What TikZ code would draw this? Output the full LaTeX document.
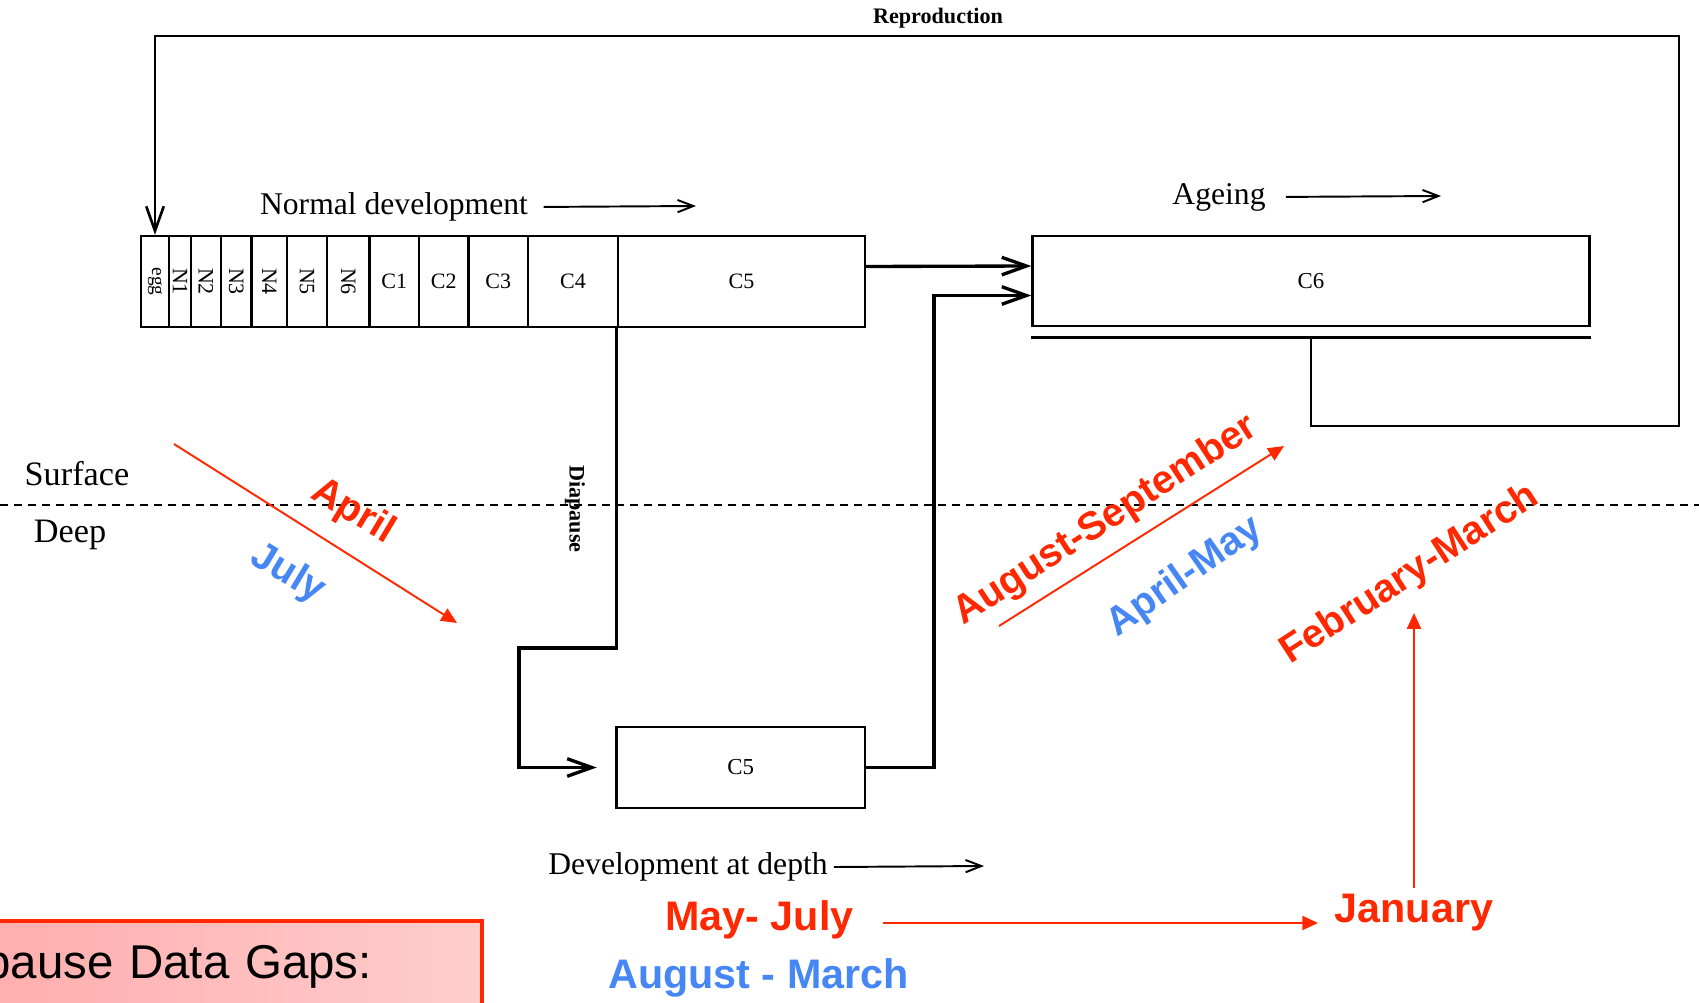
\documentclass[tikz,border=0pt]{standalone}
\usepackage{fontspec}
\setmainfont{Liberation Serif}
\newfontfamily\gapfont{Liberation Sans}
\usepackage{graphicx}
\usepackage{tikz}
\usetikzlibrary{arrows.meta, calc}
\usepackage{xcolor}
\definecolor{gapred}{RGB}{255,40,0}
\definecolor{gapblue}{RGB}{70,135,245}
\definecolor{gappink}{RGB}{255,168,168}
\definecolor{gappale}{RGB}{255,205,205}

\begin{document}
\begin{tikzpicture}[
  x=0.02cm, y=-0.02cm,
  cell/.style={rectangle, draw=black, line width=1.4pt, inner sep=0pt,
    minimum height=1.82cm, font=\fontsize{12.5}{14}\selectfont},
  stage/.style={rectangle, draw=black, line width=1.4pt, inner sep=0pt,
    font=\fontsize{13}{15}\selectfont},
  flow/.style={-{Straight Barb[length=14pt, width=10pt]}, line width=1.9pt},
  trend/.style={-{Straight Barb[length=9pt, width=7pt]}, line width=1.1pt},
  note/.style={font=\fontsize{18}{20}\selectfont},
  layer/.style={font=\fontsize{19.5}{22}\selectfont},
  small/.style={font=\bfseries\fontsize{12.6}{14}\selectfont},
  month/.style={font=\gapfont\bfseries\fontsize{23.5}{26}\selectfont},
  monthtilt/.style={font=\gapfont\bfseries\fontsize{22.5}{25}\selectfont},
  move/.style={-{Triangle[length=9pt, width=8pt]}, draw=gapred, line width=1.1pt},
  gapbox/.style={rectangle, draw=gapred, line width=2.2pt, left color=gappink,
    right color=gappale, inner xsep=0.3cm, align=left,
    font=\gapfont\fontsize{27}{30}\selectfont}
]
  \useasboundingbox (0,0) rectangle (1699,1003);
  \clip (0,0) rectangle (1699,1003);

  \node[cell, minimum width=0.55cm, font=\fontsize{11}{12}\selectfont] (egg) at (155,281.5) {\rotatebox{-90}{egg}};
  \foreach \a/\b/\t/\r/\n in {169/191/N1/-90/n1, 191/221/N2/-90/n2, 221/251.5/N3/-90/n3,
      251.5/287/N4/-90/n4, 287/327/N5/-90/n5, 327/369.5/N6/-90/n6, 369.5/419/C1/0/c1,
      419/468.5/C2/0/c2, 468.5/528/C3/0/c3, 528/618/C4/0/c4, 618/865/C5/0/c5top}
    \node[cell, minimum width={(\b-\a)*0.02cm}] (\n) at ({(\a+\b)/2},281.5) {\rotatebox{\r}{\t}};

  \node[stage, minimum width=11.14cm, minimum height=1.8cm] (c6) at (1311,281) {C6};
  \node[stage, minimum width=4.97cm, minimum height=1.62cm] (c5deep) at (740.7,767.5) {C5};

  \node[note] (normal) at (394,207) {Normal development};
  \node[note] (ageing) at (1219,197) {Ageing};
  \node[note] (depth) at (688,867) {Development at depth};
  \coordinate (normalEnd) at (696,206);
  \coordinate (ageingEnd) at (1441,196);
  \coordinate (depthEnd) at (984,866);
  \draw[trend, shorten <=0.19cm] (normal.east) -- (normalEnd);
  \draw[trend, shorten <=0.28cm] (ageing.east) -- (ageingEnd);
  \draw[trend] (depth.east) -- (depthEnd);

  \coordinate (ageline) at ($(c6.south)+(0,10.5)$);
  \draw[line width=1.4pt] (c6.south west |- ageline) -- (c6.south east |- ageline);
  \coordinate (loopR) at (1679,426);
  \coordinate (loopT) at (1679,36);
  \draw[flow, line width=1.5pt] (ageline) |- (loopR) -- (loopT) -| (egg.north);
  \node[small] (repro) at (938,18) {Reproduction};

  \draw[flow] ($(c5top.east)+(0,-15)$) -- ($(c6.west)+(0,-15)$);
  \coordinate (riseTop) at (934,295.5);
  \draw[flow] (c5deep.east) -| (riseTop) -- (c6.west |- riseTop);
  \coordinate (diveL) at (519,648);
  \draw[flow, shorten >=0.37cm] (c5top.south west) |- (diveL) |- (c5deep.west);
  \node[small, rotate=-90] (diapause) at (575,509) {Diapause};

  \draw[dashed, line width=1.1pt, dash pattern=on 0.16cm off 0.12cm] (0,505) -- (1699,505);
  \node[layer] (surface) at (77,474) {Surface};
  \node[layer] (deep) at (70,535) {Deep};

  \coordinate (sinkA) at (174,444);
  \coordinate (sinkB) at (457,623);
  \draw[move] (sinkA) -- (sinkB);
  \node[monthtilt, text=gapred, rotate=-31] (april) at (353,512) {April};
  \node[monthtilt, text=gapblue, rotate=-31] (july) at (288,574) {July};

  \coordinate (riseA) at (999,626);
  \coordinate (riseB) at (1284,446);
  \draw[move] (riseA) -- (riseB);
  \node[monthtilt, text=gapred, rotate=33] (augsep) at (1106,521) {August-September};
  \node[monthtilt, text=gapblue, rotate=35] (aprilmay) at (1185,577) {April-May};
  \node[monthtilt, text=gapred, rotate=33] (febmarch) at (1410,575) {February-March};

  \node[month, text=gapred] (mayjuly) at (759.5,920) {May- July};
  \node[month, text=gapblue] (augmarch) at (758.5,978) {August - March};
  \node[month, text=gapred] (january) at (1414,913) {January};
  \coordinate (febTip) at (1414,613);
  \draw[move, shorten <=0.47cm, shorten >=0.21cm] ($(mayjuly.east)+(0,3)$) -- ($(mayjuly.east -| january.west)+(0,3)$);
  \draw[move] (january.north) -- (febTip);

  \node[gapbox, anchor=north east, minimum width=11.68cm, minimum height=1.8cm,
    text width=11.08cm] (gaps) at (484,919) {Diapause Data Gaps:};
\end{tikzpicture}
\end{document}
